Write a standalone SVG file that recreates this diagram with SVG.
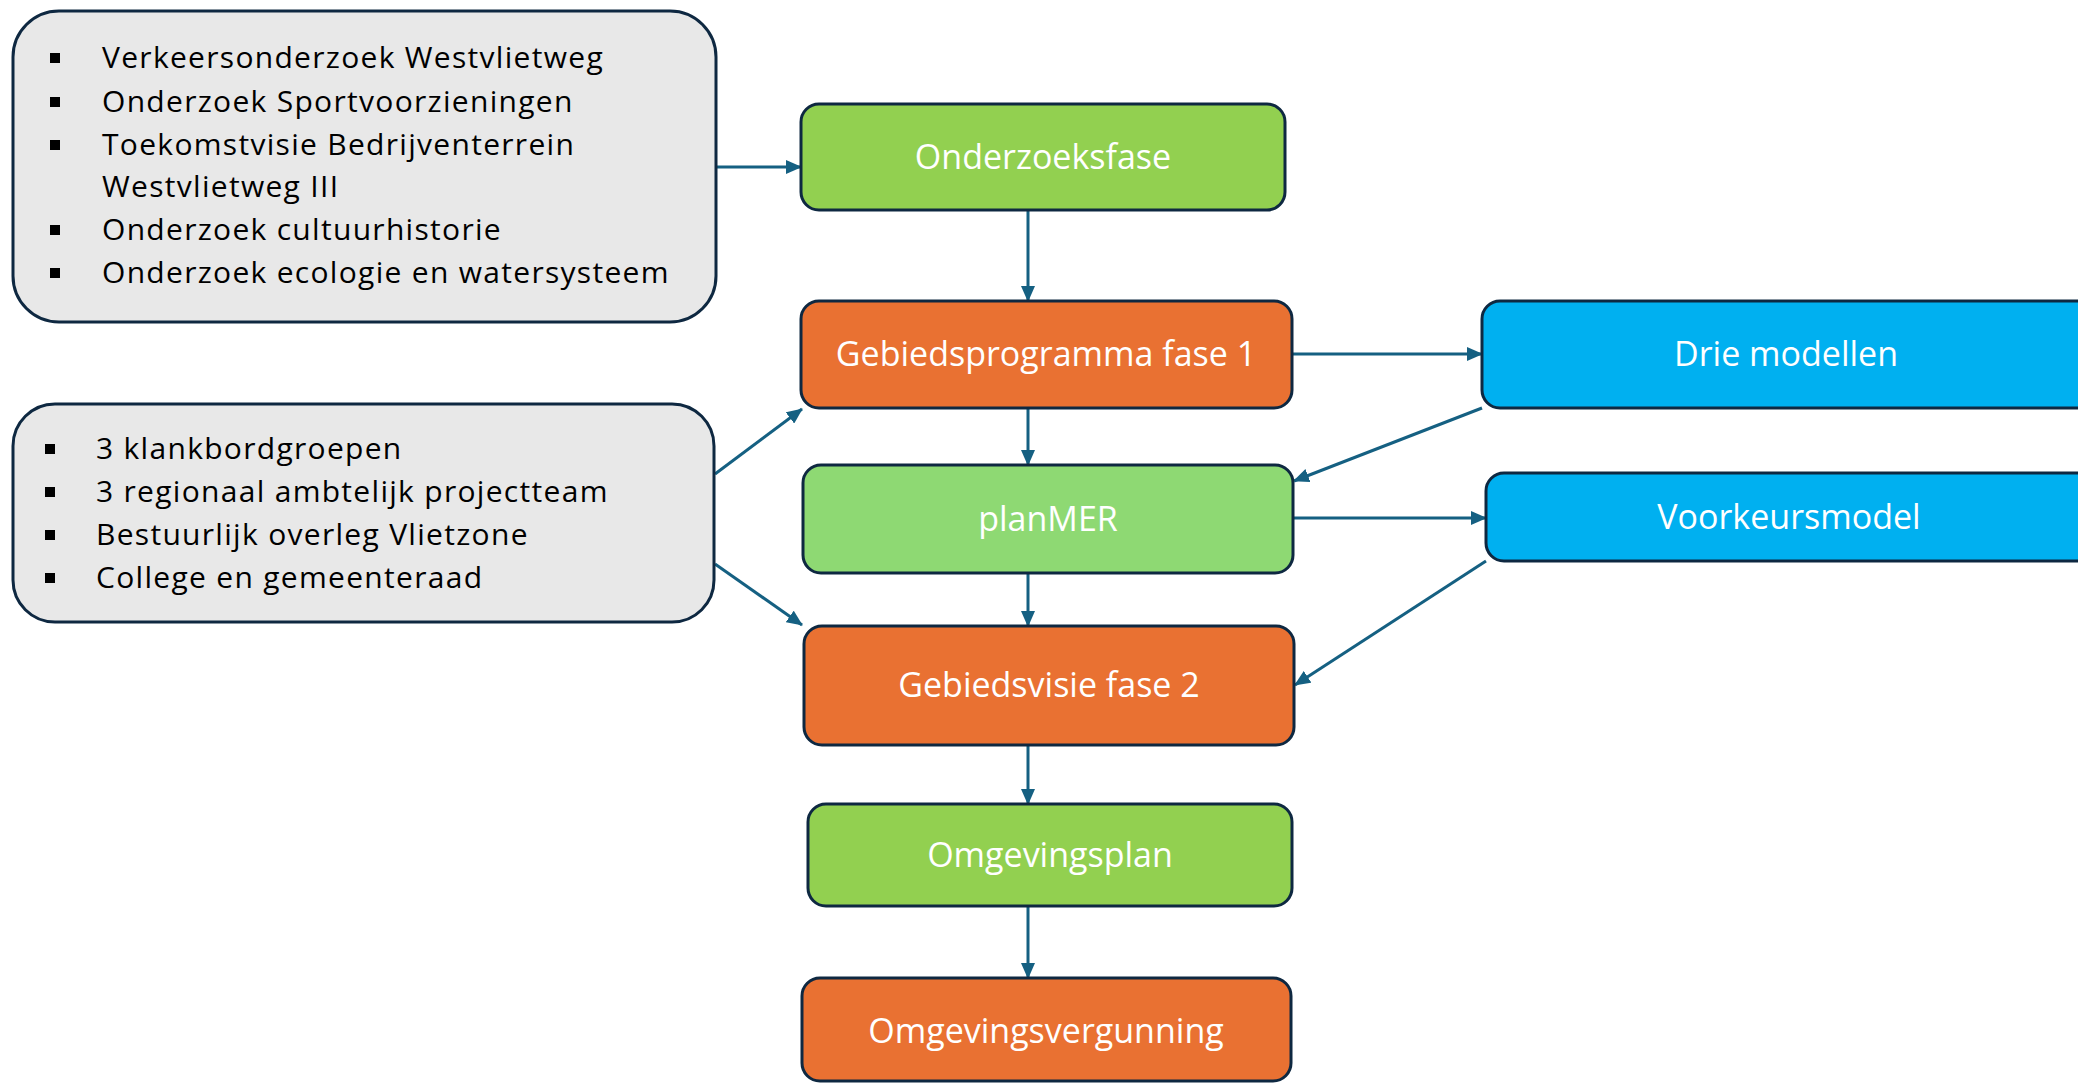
<svg xmlns="http://www.w3.org/2000/svg" width="2078" height="1083" viewBox="0 0 2078 1083">
<defs>
<marker id="ah" markerUnits="userSpaceOnUse" markerWidth="16" markerHeight="14" refX="15" refY="7" orient="auto">
<path d="M0,0 L16,7 L0,14 Z" fill="#156082"/>
</marker>
<style>
.note{fill:#E8E8E8;stroke:#0E2841;stroke-width:3}
.box{stroke:#0E2841;stroke-width:3}
.green{fill:#92D050}
.lgreen{fill:#8ED973}
.orange{fill:#E97132}
.blue{fill:#00B0F0}
.lbl{font-family:"Open Sans","Noto Sans","Liberation Sans",sans-serif;font-size:34px;fill:#FFFFFF;text-anchor:middle}
.item{font-family:"Open Sans","Noto Sans","Liberation Sans",sans-serif;font-size:30px;fill:#000000;letter-spacing:1.3px}
.bul{fill:#000000}
.con{stroke:#156082;stroke-width:3;fill:none;marker-end:url(#ah)}
</style>
</defs>
<rect width="2078" height="1083" fill="#FFFFFF"/>

<g id="connectors">
<line class="con" x1="716" y1="167" x2="801" y2="167"/>
<line class="con" x1="1028" y1="210" x2="1028" y2="301"/>
<line class="con" x1="1292" y1="354" x2="1482" y2="354"/>
<line class="con" x1="1482" y1="408" x2="1294" y2="481"/>
<line class="con" x1="1028" y1="408" x2="1028" y2="465"/>
<line class="con" x1="1293" y1="518" x2="1486" y2="518"/>
<line class="con" x1="1486" y1="561" x2="1295" y2="685"/>
<line class="con" x1="1028" y1="573" x2="1028" y2="626"/>
<line class="con" x1="715" y1="474" x2="802" y2="409"/>
<line class="con" x1="715" y1="564" x2="802" y2="625"/>
<line class="con" x1="1028" y1="745" x2="1028" y2="804"/>
<line class="con" x1="1028" y1="906" x2="1028" y2="978"/>
</g>

<g id="onderzoeken">
<rect class="note" x="13" y="11" width="703" height="311" rx="46" ry="46"/>
<rect class="bul" x="50" y="53" width="10" height="10"/>
<rect class="bul" x="50" y="97" width="10" height="10"/>
<rect class="bul" x="50" y="140" width="10" height="10"/>
<rect class="bul" x="50" y="225" width="10" height="10"/>
<rect class="bul" x="50" y="268" width="10" height="10"/>
<text class="item" x="102" y="68">Verkeersonderzoek Westvlietweg</text>
<text class="item" x="102" y="112">Onderzoek Sportvoorzieningen</text>
<text class="item" x="102" y="155">Toekomstvisie Bedrijventerrein</text>
<text class="item" x="102" y="197">Westvlietweg III</text>
<text class="item" x="102" y="240">Onderzoek cultuurhistorie</text>
<text class="item" x="102" y="283">Onderzoek ecologie en watersysteem</text>
</g>

<g id="overleg">
<rect class="note" x="13" y="404" width="701" height="218" rx="42" ry="42"/>
<rect class="bul" x="45" y="444" width="10" height="10"/>
<rect class="bul" x="45" y="487" width="10" height="10"/>
<rect class="bul" x="45" y="530" width="10" height="10"/>
<rect class="bul" x="45" y="573" width="10" height="10"/>
<text class="item" x="96" y="459">3 klankbordgroepen</text>
<text class="item" x="96" y="502">3 regionaal ambtelijk projectteam</text>
<text class="item" x="96" y="545">Bestuurlijk overleg Vlietzone</text>
<text class="item" x="96" y="588">College en gemeenteraad</text>
</g>

<g id="onderzoeksfase">
<rect class="box green" x="801" y="104" width="484" height="106" rx="18" ry="18"/>
<text class="lbl" x="1043" y="169">Onderzoeksfase</text>
</g>

<g id="gebiedsprogramma">
<rect class="box orange" x="801" y="301" width="491" height="107" rx="18" ry="18"/>
<text class="lbl" x="1046" y="366">Gebiedsprogramma fase 1</text>
</g>

<g id="planmer">
<rect class="box lgreen" x="803" y="465" width="490" height="108" rx="18" ry="18"/>
<text class="lbl" x="1048" y="531">planMER</text>
</g>

<g id="gebiedsvisie">
<rect class="box orange" x="804" y="626" width="490" height="119" rx="18" ry="18"/>
<text class="lbl" x="1049" y="697">Gebiedsvisie fase 2</text>
</g>

<g id="omgevingsplan">
<rect class="box green" x="808" y="804" width="484" height="102" rx="18" ry="18"/>
<text class="lbl" x="1050" y="867">Omgevingsplan</text>
</g>

<g id="omgevingsvergunning">
<rect class="box orange" x="802" y="978" width="489" height="103" rx="18" ry="18"/>
<text class="lbl" x="1046" y="1043">Omgevingsvergunning</text>
</g>

<g id="drie-modellen">
<rect class="box blue" x="1482" y="301" width="620" height="107" rx="18" ry="18"/>
<text class="lbl" x="1786" y="366">Drie modellen</text>
</g>

<g id="voorkeursmodel">
<rect class="box blue" x="1486" y="473" width="620" height="88" rx="18" ry="18"/>
<text class="lbl" x="1789" y="529">Voorkeursmodel</text>
</g>
</svg>
